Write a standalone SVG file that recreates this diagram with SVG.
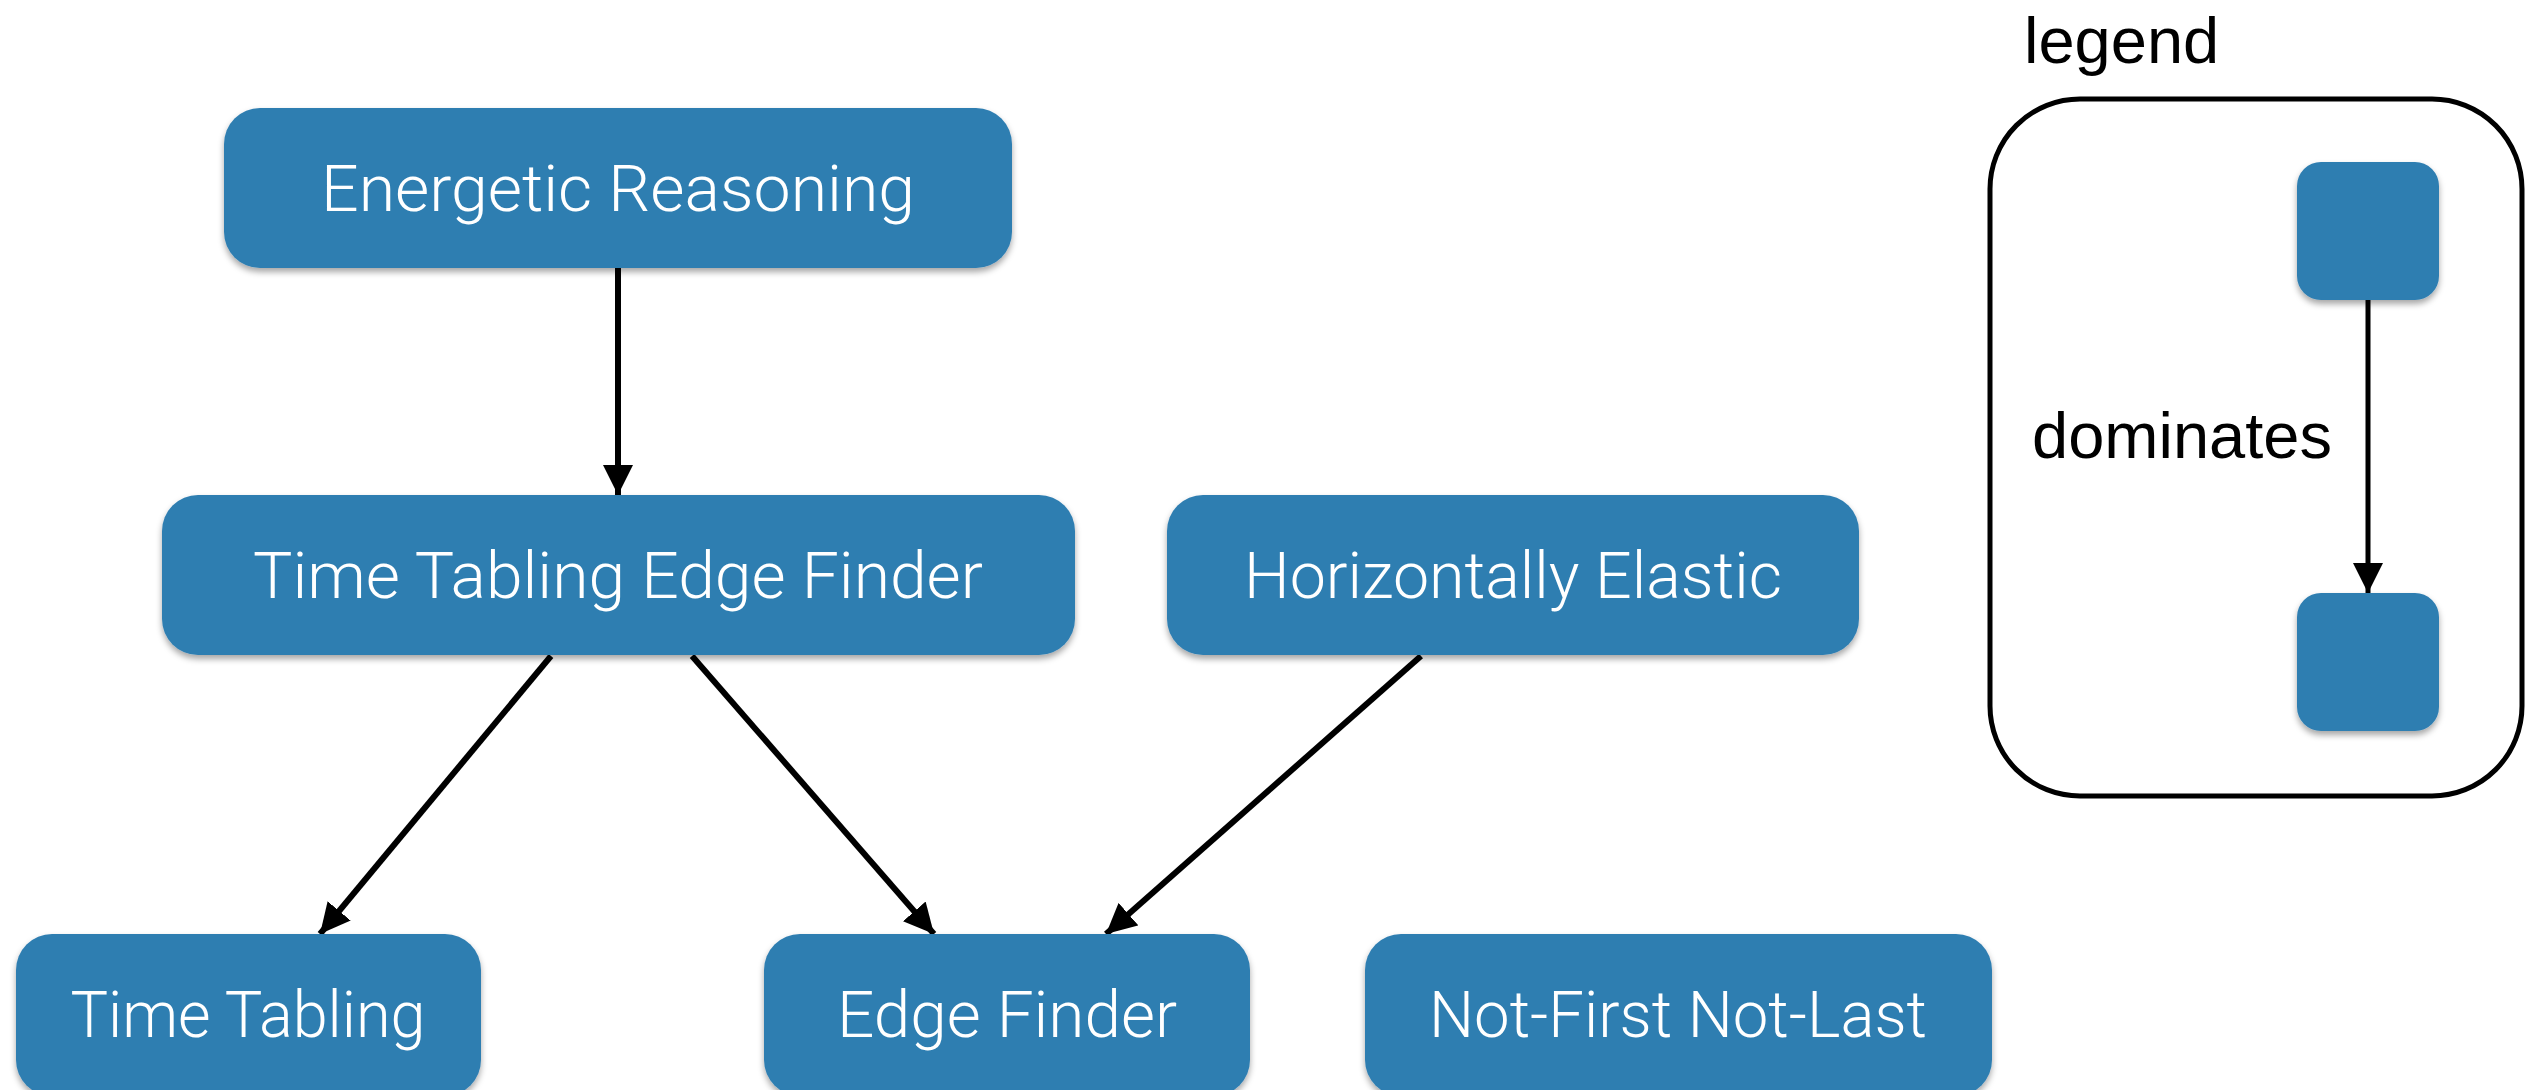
<svg xmlns="http://www.w3.org/2000/svg" width="2539" height="1090" viewBox="0 0 2539 1090">
<style>
.node rect{fill:#2f7eb1;filter:url(#sh);}
.node text{fill:#ffffff;font-family:Roboto,"Liberation Sans",Arial,sans-serif;font-weight:300;font-size:64px;text-anchor:middle;}
.edge{stroke:#000;stroke-width:6;fill:none;marker-end:url(#ah);}
.lbl{fill:#000;font-family:"Liberation Sans",Arial,sans-serif;font-size:65px;}
</style>
<defs>
<filter id="sh" x="-10%" y="-10%" width="120%" height="130%">
<feDropShadow dx="0" dy="4" stdDeviation="3" flood-color="#000" flood-opacity="0.35"/>
</filter>
<marker id="ah" markerUnits="userSpaceOnUse" markerWidth="30" markerHeight="30" viewBox="0 0 26 26" refX="26" refY="13" orient="auto">
<path d="M0,0 L26,13 L0,26 Z" fill="#000"/>
</marker>
</defs>
<rect width="2539" height="1090" fill="#ffffff"/>
<g id="connectors">
<line class="edge" x1="618" y1="268" x2="618" y2="495"/>
<line class="edge" x1="551" y1="656" x2="320" y2="934"/>
<line class="edge" x1="692" y1="656" x2="934" y2="934"/>
<line class="edge" x1="1421" y1="656" x2="1106" y2="934"/>
</g>
<g id="n-energetic" class="node">
<rect x="224" y="108" width="788" height="160" rx="36"/>
<text x="618" y="211" textLength="594" lengthAdjust="spacingAndGlyphs">Energetic Reasoning</text>
</g>
<g id="n-ttef" class="node">
<rect x="162" y="495" width="913" height="160" rx="36"/>
<text x="618" y="598" textLength="730" lengthAdjust="spacingAndGlyphs">Time Tabling Edge Finder</text>
</g>
<g id="n-he" class="node">
<rect x="1167" y="495" width="692" height="160" rx="36"/>
<text x="1513" y="598" textLength="538" lengthAdjust="spacingAndGlyphs">Horizontally Elastic</text>
</g>
<g id="n-tt" class="node">
<rect x="16" y="934" width="465" height="162" rx="36"/>
<text x="248" y="1037" textLength="355" lengthAdjust="spacingAndGlyphs">Time Tabling</text>
</g>
<g id="n-ef" class="node">
<rect x="764" y="934" width="486" height="162" rx="36"/>
<text x="1007" y="1037" textLength="340" lengthAdjust="spacingAndGlyphs">Edge Finder</text>
</g>
<g id="n-nfnl" class="node">
<rect x="1365" y="934" width="627" height="162" rx="36"/>
<text x="1678" y="1037" textLength="498" lengthAdjust="spacingAndGlyphs">Not-First Not-Last</text>
</g>
<g id="legend">
<text class="lbl" x="2024" y="63">legend</text>
<rect x="1990" y="99" width="532" height="697" rx="90" fill="none" stroke="#000" stroke-width="5"/>
<g class="node" id="legend-a"><rect x="2297" y="162" width="142" height="138" rx="24"/></g>
<g class="node" id="legend-b"><rect x="2297" y="593" width="142" height="138" rx="24"/></g>
<line x1="2368" y1="300" x2="2368" y2="593" stroke="#000" stroke-width="5" marker-end="url(#ah)"/>
<text class="lbl" x="2032" y="458">dominates</text>
</g>
</svg>
